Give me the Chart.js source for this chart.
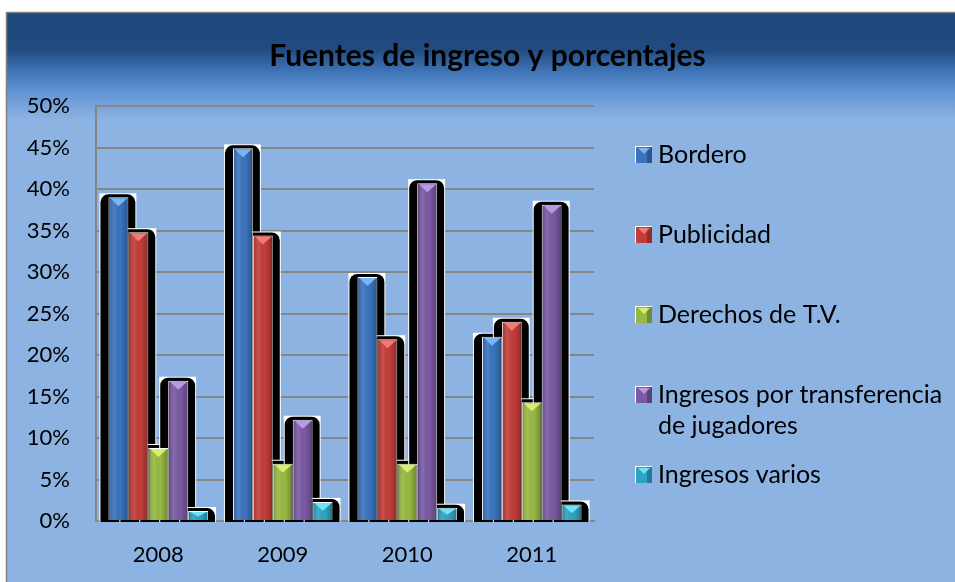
<!DOCTYPE html>
<html>
<head>
<meta charset="utf-8">
<script src="https://cdn.jsdelivr.net/npm/chart.js@4/dist/chart.umd.min.js"></script>
<style>
    body { margin: 0; background: #ffffff; }
    canvas { display: block; }
</style>
</head>
<body>
<canvas id="income-sources-chart" width="955" height="582"></canvas>
<script>
const years = ['2008', '2009', '2010', '2011'];
const seriesNames = ['Bordero', 'Publicidad', 'Derechos de T.V.', 'Ingresos por transferencia\nde jugadores', 'Ingresos varios'];
const bordero = [39.0, 44.9, 29.4, 22.2];
const publicidad = [34.8, 34.4, 21.9, 24.0];
const derechosTV = [8.8, 6.9, 6.9, 14.3];
const transferencias = [16.9, 12.2, 40.7, 38.1];
const ingresosVarios = [1.2, 2.3, 1.6, 2.0];
const yTickMax = 50;
const yTickStep = 5;

const seriesColors = ['#3b73bd', '#c23d39', '#97b843', '#7a5aa3', '#2fa3c3'];
const bevelColors = ['#7ab4f5', '#f07a74', '#d6f06a', '#b899e6', '#6fe3f7'];

const FONT = 'Lato, "Open Sans", sans-serif';

// Background: white strip, then dark blue header fading into light blue
const backgroundPlugin = {
    id: 'background',
    beforeDraw: (chart) => {
        const ctx = chart.ctx;
        ctx.save();
        ctx.fillStyle = '#ffffff';
        ctx.fillRect(0, 0, chart.width, chart.height);
        const grad = ctx.createLinearGradient(0, 12, 0, 120);
        grad.addColorStop(0, '#1f487c');
        grad.addColorStop(0.35, '#214b80');
        grad.addColorStop(0.55, '#3f74b6');
        grad.addColorStop(0.72, '#5f92d4');
        grad.addColorStop(1, '#8db3e2');
        ctx.fillStyle = grad;
        ctx.fillRect(6, 12, chart.width - 6, chart.height - 12);
        ctx.strokeStyle = '#7f7f7f';
        ctx.lineWidth = 1.5;
        ctx.strokeRect(6.5, 12.5, chart.width, chart.height);
        ctx.restore();
    }
};

// Black rounded "shadow" behind every bar, with a white box around it
const barShadowPlugin = {
    id: 'barShadow',
    beforeDatasetsDraw: (chart) => {
        const ctx = chart.ctx;
        ctx.save();
        chart.data.datasets.forEach((ds, i) => {
            chart.getDatasetMeta(i).data.forEach(bar => {
                const { x, y, base, width } = bar.getProps(['x', 'y', 'base', 'width'], true);
                const left = x - width / 2;
                ctx.fillStyle = '#ffffff';
                ctx.fillRect(left - 9, y - 4, width + 17, base - y + 6);
                ctx.fillStyle = '#000000';
                ctx.beginPath();
                ctx.roundRect(left - 8, y - 3, width + 15, base - y + 5, [8, 8, 0, 0]);
                ctx.fill();
            });
        });
        ctx.restore();
    }
};

// Shading and the small bevel triangle on top of each bar face
const barShadingPlugin = {
    id: 'barShading',
    afterDatasetsDraw: (chart) => {
        const ctx = chart.ctx;
        ctx.save();
        chart.data.datasets.forEach((ds, i) => {
            chart.getDatasetMeta(i).data.forEach(bar => {
                const { x, y, base, width } = bar.getProps(['x', 'y', 'base', 'width'], true);
                const left = x - width / 2 + 1;
                const right = x + width / 2;
                const shade = ctx.createLinearGradient(left, 0, right, 0);
                shade.addColorStop(0, 'rgba(0,0,0,0.12)');
                shade.addColorStop(0.25, 'rgba(255,255,255,0.10)');
                shade.addColorStop(0.6, 'rgba(0,0,0,0)');
                shade.addColorStop(1, 'rgba(0,0,0,0.28)');
                ctx.fillStyle = shade;
                ctx.fillRect(left, y + 1, right - left, base - y - 1);
                const h = Math.min(8, (base - y) / 2);
                ctx.fillStyle = bevelColors[i];
                ctx.beginPath();
                ctx.moveTo(left + 1, y + 1);
                ctx.lineTo(right - 1, y + 1);
                ctx.lineTo(x, y + 1 + h);
                ctx.closePath();
                ctx.fill();
            });
        });
        ctx.restore();
    }
};

// Legend on the right, drawn by hand so the long label can wrap
const sideLegendPlugin = {
    id: 'sideLegend',
    afterDraw: (chart) => {
        const ctx = chart.ctx;
        const markerX = 636;
        const textX = 658;
        let rowY = 155;
        ctx.save();
        ctx.font = `25px ${FONT}`;
        ctx.textBaseline = 'middle';
        chart.data.datasets.forEach((ds, i) => {
            ctx.fillStyle = '#ffffff';
            ctx.fillRect(markerX - 1, rowY - 9, 17, 17);
            ctx.fillStyle = seriesColors[i];
            ctx.fillRect(markerX, rowY - 8, 16, 16);
            ctx.fillStyle = 'rgba(0,0,0,0.25)';
            ctx.fillRect(markerX + 11, rowY - 8, 5, 16);
            ctx.fillStyle = bevelColors[i];
            ctx.beginPath();
            ctx.moveTo(markerX + 2, rowY - 7);
            ctx.lineTo(markerX + 14, rowY - 7);
            ctx.lineTo(markerX + 8, rowY - 1);
            ctx.closePath();
            ctx.fill();
            ctx.fillStyle = '#000000';
            ds.label.split('\n').forEach((line, k) => {
                ctx.fillText(line, textX, rowY + k * 31);
            });
            rowY += 80;
        });
        ctx.restore();
    }
};

const buildDataset = (label, values, index) => ({
    label: label,
    data: values,
    backgroundColor: seriesColors[index],
    borderColor: '#ffffff',
    borderWidth: 1,
    borderSkipped: 'bottom'
});

document.addEventListener('DOMContentLoaded', () => {
    const ctx = document.querySelector('canvas#income-sources-chart').getContext('2d');
    const allValues = [bordero, publicidad, derechosTV, transferencias, ingresosVarios];

    new Chart(ctx, {
        type: 'bar',
        data: {
            labels: years,
            datasets: seriesNames.map((name, i) => buildDataset(name, allValues[i], i))
        },
        options: {
            responsive: false,
            animation: false,
            layout: {
                padding: { top: 12, left: 20, right: 0, bottom: 0 }
            },
            datasets: {
                bar: {
                    categoryPercentage: 0.8,
                    barPercentage: 1.0
                }
            },
            scales: {
                x: {
                    grid: { display: false, drawTicks: false },
                    border: { display: true, color: '#868686', width: 2 },
                    ticks: {
                        color: '#000000',
                        padding: 21,
                        font: { family: FONT, size: 22 }
                    },
                    afterFit: (scale) => { scale.height = 61; }
                },
                y: {
                    min: 0,
                    max: yTickMax,
                    grid: { color: '#868686', lineWidth: 2, drawTicks: false },
                    border: { display: true, color: '#868686', width: 2 },
                    ticks: {
                        stepSize: yTickStep,
                        color: '#000000',
                        padding: 26,
                        font: { family: FONT, size: 22 },
                        callback: function(value) {
                            return value + '%';
                        }
                    },
                    afterFit: (scale) => { scale.width = 76; }
                },
                legendSpace: {
                    type: 'linear',
                    position: 'right',
                    grid: { display: false },
                    border: { display: false },
                    ticks: { display: false },
                    afterFit: (scale) => { scale.width = 361; }
                }
            },
            plugins: {
                legend: { display: false },
                tooltip: { enabled: false },
                title: {
                    display: true,
                    text: 'Fuentes de ingreso y porcentajes',
                    color: '#000000',
                    padding: { top: 26, bottom: 32 },
                    font: { family: FONT, size: 30, weight: 'bold' }
                }
            }
        },
        plugins: [backgroundPlugin, barShadowPlugin, barShadingPlugin, sideLegendPlugin]
    });
});
</script>
</body>
</html>
